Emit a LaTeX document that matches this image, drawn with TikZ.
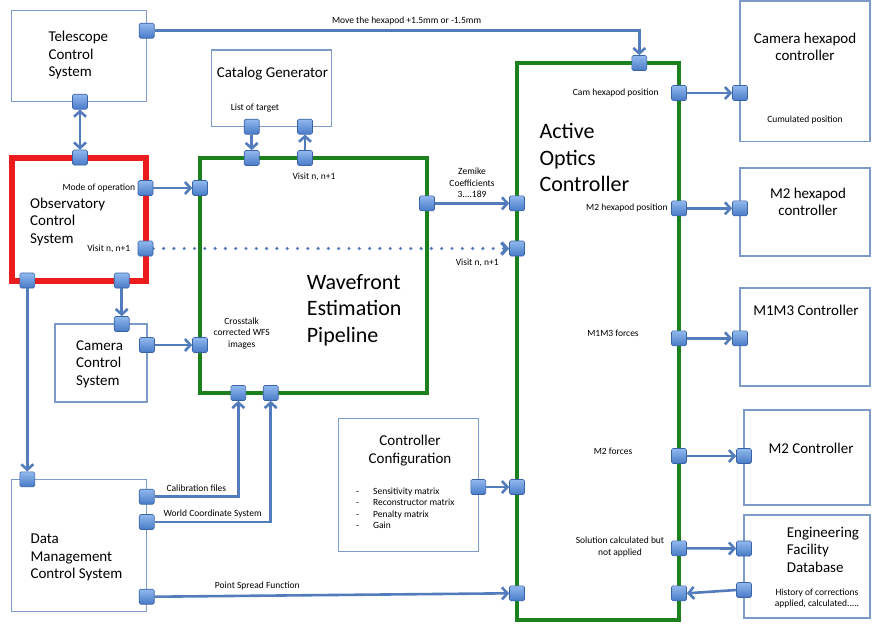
\documentclass[tikz,border=0pt]{standalone}
\usepackage{fontspec}
\setmainfont{Carlito}
\usetikzlibrary{positioning, arrows.meta}

\definecolor{boxline}{RGB}{125,155,200}
\definecolor{linkblue}{RGB}{82,124,188}
\definecolor{porttop}{RGB}{145,185,238}
\definecolor{portbot}{RGB}{72,122,198}
\definecolor{portedge}{RGB}{58,98,168}
\definecolor{ocsred}{RGB}{235,28,28}
\definecolor{aogreen}{RGB}{28,128,28}

\begin{document}
\begin{tikzpicture}[x=1pt, y=-1pt,
    >={Straight Barb[length=5.5pt, width=12pt]},
    box/.style={draw=boxline, line width=1.3pt, inner sep=0pt},
    port/.style={draw=portedge, line width=0.6pt, top color=porttop,
        bottom color=portbot, rounded corners=1.5pt,
        minimum size=15pt, inner sep=0pt},
    link/.style={draw=linkblue, line width=2.6pt, ->},
    dotlink/.style={link, line width=3.4pt, line cap=round,
        dash pattern=on 0pt off 10.3pt},
    title/.style={font=\fontsize{15}{17.5}\selectfont, align=left},
    big/.style={font=\fontsize{22}{26.5}\selectfont, align=left},
    small/.style={font=\fontsize{9.5}{11.6}\selectfont, align=center}
]
    \useasboundingbox (0,0) rectangle (872,625);
    \fill[white] (0,0) rectangle (872,625);

    % boxes
    \node[box, minimum width=135pt, minimum height=91pt] (tcs) at (79.2,56.2) {};
    \node[box, minimum width=120pt, minimum height=76.7pt] (cat) at (271.7,88.3) {};
    \node[box, draw=ocsred, line width=6pt,
        minimum width=134pt, minimum height=123pt] (ocs) at (78.5,219) {};
    \node[box, draw=aogreen, line width=4pt,
        minimum width=227pt, minimum height=235pt] (wep) at (313.5,275.5) {};
    \node[box, minimum width=92pt, minimum height=78pt] (ccs) at (101,363) {};
    \node[box, draw=aogreen, line width=4pt,
        minimum width=162pt, minimum height=557pt] (aoc) at (598,341.5) {};
    \node[box, minimum width=130pt, minimum height=140.7pt] (chx) at (805,71.3) {};
    \node[box, minimum width=130pt, minimum height=88pt] (m2hx) at (805,212) {};
    \node[box, minimum width=130pt, minimum height=98pt] (m1m3) at (805,337) {};
    \node[box, minimum width=126pt, minimum height=95pt] (m2c) at (807,457.5) {};
    \node[box, minimum width=126pt, minimum height=103pt] (efd) at (807,566.5) {};
    \node[box, minimum width=140pt, minimum height=133.4pt] (cc) at (408.3,485) {};
    \node[box, minimum width=135pt, minimum height=132.4pt] (dm) at (79.2,545.5) {};

    % box texts
    \node[title, anchor=west] (tcsTxt) at (45,55.3) {Telescope\\Control\\System};
    \node[title] (catTxt) at (272.5,74) {Catalog Generator};
    \node[title, anchor=west] (ocsTxt) at (26.7,221.5) {Observatory\\Control\\System};
    \node[big, anchor=west] (wepTxt) at (303.3,310.2) {Wavefront\\Estimation\\Pipeline};
    \node[title, anchor=west] (ccsTxt) at (72.7,364) {Camera\\Control\\System};
    \node[big, anchor=west] (aocTxt) at (536,157.5) {Active\\Optics\\Controller};
    \node[title, align=center] (chxTxt) at (805,47) {Camera hexapod\\controller};
    \node[small] (cumTxt) at (805,120) {Cumulated position};
    \node[title, align=center] (m2hxTxt) at (808,201.7) {M2 hexapod\\controller};
    \node[title] (m1m3Txt) at (806,310.7) {M1M3 Controller};
    \node[title] (m2cTxt) at (811,448.3) {M2 Controller};
    \node[title, anchor=west] (efdTxt) at (783.3,549.7) {Engineering\\Facility\\Database};
    \node[small] (histTxt) at (817,598.3) {History of corrections\\applied, calculated.....};
    \node[title, align=center] (ccTxt) at (410,450.5) {Controller\\Configuration};
    \node[small, align=left, anchor=west, inner sep=0pt] (ccList) at (356,508.3)
        {\makebox[17pt][l]{-}Sensitivity matrix\\
         \makebox[17pt][l]{-}Reconstructor matrix\\
         \makebox[17pt][l]{-}Penalty matrix\\
         \makebox[17pt][l]{-}Gain};
    \node[title, anchor=west] (dmTxt) at (27,557.5) {Data\\Management\\Control System};

    % ports
    \node[port] (tcsR) at (146.7,30.7) {};
    \node[port] (tcsB) at (80,101.7) {};
    \node[port] (ocsT) at (80,157.5) {};
    \node[port] (ocsM) at (145.5,188) {};
    \node[port] (ocsV) at (145.5,248.5) {};
    \node[port] (ocsB1) at (27.3,280.5) {};
    \node[port] (ocsB2) at (121.7,280.5) {};
    \node[port] (catB1) at (251.7,126.7) {};
    \node[port] (catB2) at (305,126.7) {};
    \node[port] (wepT1) at (251.7,158) {};
    \node[port] (wepT2) at (305,158) {};
    \node[port] (wepL1) at (200,188) {};
    \node[port] (wepL2) at (200,345) {};
    \node[port] (wepR) at (427,203.3) {};
    \node[port] (wepB1) at (238.3,393) {};
    \node[port] (wepB2) at (270.7,393) {};
    \node[port] (ccsT) at (121.7,324) {};
    \node[port] (ccsR) at (147,345) {};
    \node[port] (dmT) at (27.3,479.3) {};
    \node[port] (dmR1) at (146.7,496.7) {};
    \node[port] (dmR2) at (146.7,522) {};
    \node[port] (dmR3) at (146.7,596.7) {};
    \node[port] (ccR) at (478.3,487) {};
    \node[port] (aocT) at (639.3,63) {};
    \node[port] (aocL1) at (517,203.3) {};
    \node[port] (aocL2) at (517,248.5) {};
    \node[port] (aocL3) at (517,487) {};
    \node[port] (aocL4) at (517,593.3) {};
    \node[port] (aocR1) at (679,93) {};
    \node[port] (aocR2) at (679,208.3) {};
    \node[port] (aocR3) at (679,338.3) {};
    \node[port] (aocR4) at (679,456) {};
    \node[port] (aocR5) at (679,548.3) {};
    \node[port] (aocR6) at (679,593.3) {};
    \node[port] (chxL) at (740,93) {};
    \node[port] (m2hxL) at (740,208.3) {};
    \node[port] (m1m3L) at (740,338.3) {};
    \node[port] (m2cL) at (744,456) {};
    \node[port] (efdL1) at (744,548.5) {};
    \node[port] (efdL2) at (744,590) {};

    % port labels
    \node[small] (listTxt) at (255,108) {List of target};
    \node[small, left=-1pt of ocsM] (modeTxt) {Mode of operation};
    \node[small, left=4pt of ocsV] (visitTxt) {Visit n, n+1};
    \node[small] (visitTopTxt) at (314,177) {Visit n, n+1};
    \node[small] (xtalkTxt) at (241.7,333.3) {Crosstalk\\corrected WFS\\images};
    \node[small, left=9pt of aocR1] (camPosTxt) {Cam hexapod position};
    \node[small, left=0pt of aocR2] (m2PosTxt) {M2 hexapod position};
    \node[small] (m1m3FTxt) at (613,333) {M1M3 forces};
    \node[small] (m2FTxt) at (613,451.7) {M2 forces};
    \node[small] (solTxt) at (620,546.7) {Solution calculated but\\not applied};

    % connectors
    \draw[link] (tcsR.east) -| (aocT.north)
        node[small, pos=0.26, above=1pt]{Move the hexapod +1.5mm or -1.5mm};
    \draw[link, <->] (tcsB.south) -- (ocsT.north);
    \draw[link] (catB1.south) -- (wepT1.north);
    \draw[link] (wepT2.north) -- (catB2.south);
    \draw[link] (ocsM.east) -- (wepL1.west);
    \draw[dotlink] (ocsV.east) -- (aocL2.west)
        node[small, pos=0.91, below=5pt]{Visit n, n+1};
    \draw[link] (ocsB1.south) -- (dmT.north);
    \draw[link] (ocsB2.south) -- (ccsT.north);
    \draw[link] (ccsR.east) -- (wepL2.west);
    \draw[link] (wepR.east) -- (aocL1.west)
        node[small, midway, above=1pt]{Zemike\\Coefficients\\3....189};
    \draw[link] (dmR1.east) -| (wepB1.south)
        node[small, pos=0.25, above=1pt]{Calibration files};
    \draw[link] (dmR2.east) -| (wepB2.south)
        node[small, pos=0.25, above=-1pt]{World Coordinate System};
    \draw[link] (dmR3.east) -- (aocL4.west)
        node[small, pos=0.29, above=1pt]{Point Spread Function};
    \draw[link] (ccR.east) -- (aocL3.west);
    \draw[link] (aocR1.east) -- (chxL.west);
    \draw[link] (aocR2.east) -- (m2hxL.west);
    \draw[link] (aocR3.east) -- (m1m3L.west);
    \draw[link] (aocR4.east) -- (m2cL.west);
    \draw[link] (aocR5.east) -- (efdL1.west);
    \draw[link] (efdL2.west) -- (aocR6.east);
\end{tikzpicture}
\end{document}
